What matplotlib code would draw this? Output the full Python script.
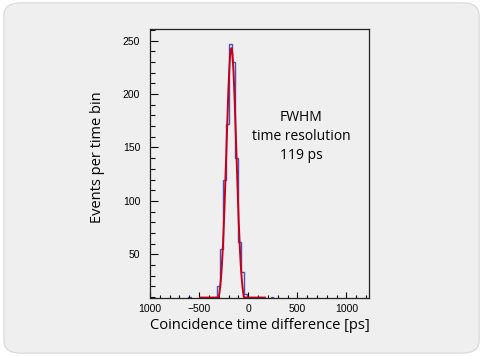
import numpy as np
import matplotlib
matplotlib.use("Agg")
import matplotlib.pyplot as plt
from matplotlib.patches import FancyBboxPatch
from matplotlib.ticker import MultipleLocator

# histogram: 30 ps bins, first edge at -1003 ps
bin_lo = -1003.0
bin_width = 30.0
counts = [0, 0, 0, 0, 0, 0, 0, 0, 0, 0,
          0, 0, 0, 10, 0, 0, 1, 0, 2, 0,
          1, 3, 10, 20, 55, 120, 172, 247, 230, 140,
          61, 33, 13, 4, 2, 1, 0, 0, 1, 0,
          0, 10, 0, 0, 0, 0, 0, 0, 0, 0,
          0, 0, 0, 0, 0, 0, 0, 0, 0, 0,
          0, 0, 0, 0, 0, 0, 0]

# gaussian fit parameters (FWHM 119 ps)
fit_amp = 243.0
fit_mean = -172.0
fit_fwhm = 119.0
fit_range = (-490, 170)

xticks = [-1000, -500, 0, 500, 1000]
xticklabels = ["1000", "\u2212500", "0", "500", "1000"]
yticks = [50, 100, 150, 200, 250]

bg = "#efefef"
fig = plt.figure(figsize=(4.83, 3.56), dpi=100)
fig.patch.set_facecolor("white")
panel = FancyBboxPatch((0.008, 0.008), 0.984, 0.984,
                       boxstyle="round,pad=0,rounding_size=0.035",
                       transform=fig.transFigure, facecolor=bg,
                       edgecolor="#d8d8d8", linewidth=0.8, zorder=-10)
fig.add_artist(panel)

ax = fig.add_axes([0.3106, 0.163, 0.4534, 0.7555])
ax.set_zorder(1)
ax.set_facecolor(bg)

edges = bin_lo + bin_width * np.arange(len(counts) + 1)
ax.stairs(counts, edges, color="#5050b0", linewidth=1.0, baseline=None)

xs = np.linspace(fit_range[0], fit_range[1], 600)
sigma = fit_fwhm / (2 * np.sqrt(2 * np.log(2)))
ys = fit_amp * np.exp(-0.5 * ((xs - fit_mean) / sigma) ** 2)
ymin = 9
ax.plot(xs, np.clip(ys, ymin + 0.4, None), color="#c4001c", linewidth=1.4)

ax.set_xlim(-1000, 1230)
ax.set_ylim(ymin, 261)

ax.set_xticks(xticks)
ax.set_xticklabels(xticklabels)
ax.set_yticks(yticks)
ax.xaxis.set_minor_locator(MultipleLocator(100))
ax.yaxis.set_minor_locator(MultipleLocator(10))
ax.tick_params(axis="both", which="both", direction="in", top=False, right=False,
               labelsize=7.5, width=0.8, colors="black")
ax.tick_params(axis="y", which="major", length=6, pad=7)
ax.tick_params(axis="y", which="minor", length=3.5)
ax.tick_params(axis="x", which="major", length=4.5, pad=4)
ax.tick_params(axis="x", which="minor", length=2.5)
for lab in ax.get_xticklabels() + ax.get_yticklabels():
    lab.set_family("Liberation Sans")
for sp in ax.spines.values():
    sp.set_linewidth(0.9)
    sp.set_color("#222222")

ax.set_xlabel("Coincidence time difference [ps]", fontsize=10.5,
              family="Open Sans", labelpad=3)
ax.set_ylabel("Events per time bin", fontsize=10.5, family="Open Sans")
ax.yaxis.set_label_coords(-0.205, 0.525)

ax.text(0.69, 0.6, "FWHM\ntime resolution\n119 ps", transform=ax.transAxes,
        ha="center", va="center", fontsize=10, family="Open Sans",
        linespacing=1.35)

fig.savefig("out.png", dpi=100, facecolor=fig.get_facecolor())
